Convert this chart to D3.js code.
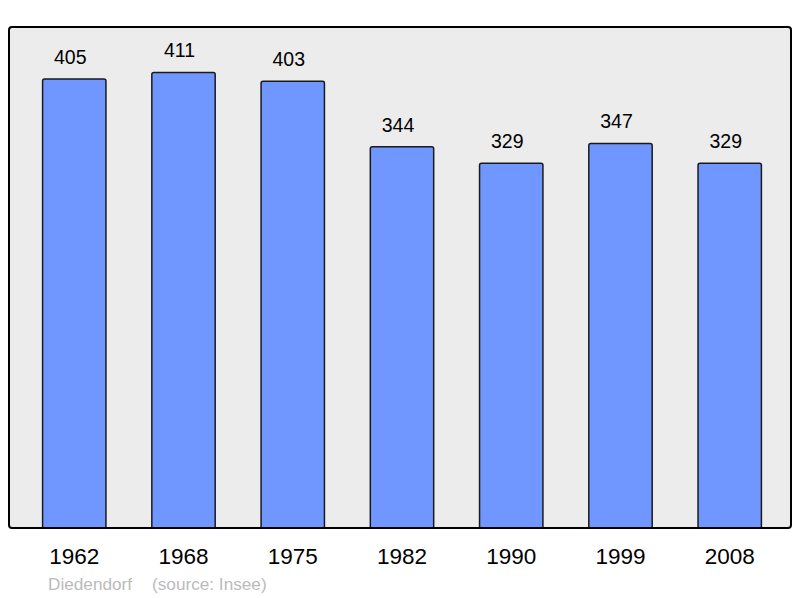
<!DOCTYPE html>
<html>
<head>
<meta charset="utf-8">
<script src="https://cdn.jsdelivr.net/npm/d3@7"></script>
<style>
  body { margin: 0; background: #fff; }
  text { font-family: "Liberation Sans", Arial, sans-serif; }
</style>
</head>
<body>
<div id="chart"></div>
<script>
const years = ["1962", "1968", "1975", "1982", "1990", "1999", "2008"];
const population = [405, 411, 403, 344, 329, 347, 329];
const town = "Diedendorf";
const source = "(source: Insee)";

const width = 800;
const height = 598;
const frame = { left: 9, top: 27, right: 791, bottom: 528 };

const svg = d3.select("#chart")
    .append("svg")
    .attr("width", width)
    .attr("height", height);

// clip bars at the plot bottom so their lower corners don't show
svg.append("defs").append("clipPath")
    .attr("id", "plot-clip")
    .append("rect")
    .attr("x", frame.left)
    .attr("y", frame.top)
    .attr("width", frame.right - frame.left)
    .attr("height", frame.bottom - frame.top);

// Plot background
svg.append("rect")
    .attr("x", frame.left)
    .attr("y", frame.top)
    .attr("width", frame.right - frame.left)
    .attr("height", frame.bottom - frame.top)
    .attr("rx", 3)
    .attr("fill", "#ececec");

const xScale = d3.scaleBand()
    .domain(years)
    .range([12, 792])
    .paddingInner(0.42)
    .paddingOuter(0.28);

const yScale = d3.scaleLinear()
    .domain([0, 452])
    .range([frame.bottom, frame.top]);

// Bars
svg.append("g")
    .attr("clip-path", "url(#plot-clip)")
    .selectAll(".bar")
    .data(years)
    .enter()
    .append("rect")
    .attr("class", "bar")
    .attr("x", d => xScale(d))
    .attr("y", (d, i) => yScale(population[i]))
    .attr("width", xScale.bandwidth())
    .attr("height", (d, i) => yScale(0) - yScale(population[i]) + 6)
    .attr("rx", 2)
    .attr("fill", "#7097ff")
    .attr("stroke", "#1a1a1a")
    .attr("stroke-width", 1.5);

// Value labels
svg.selectAll(".value")
    .data(years)
    .enter()
    .append("text")
    .attr("class", "value")
    .attr("x", d => xScale(d) + xScale.bandwidth() / 2 - 4)
    .attr("y", (d, i) => yScale(population[i]) - 15)
    .attr("text-anchor", "middle")
    .attr("font-size", 19.5)
    .attr("fill", "#000")
    .text((d, i) => population[i]);

// Frame outline
svg.append("rect")
    .attr("x", frame.left)
    .attr("y", frame.top)
    .attr("width", frame.right - frame.left)
    .attr("height", frame.bottom - frame.top)
    .attr("rx", 3)
    .attr("fill", "none")
    .attr("stroke", "#000")
    .attr("stroke-width", 2);

// Year axis
const xAxis = d3.axisBottom(xScale).tickSize(0).tickPadding(0);
const axisG = svg.append("g")
    .attr("transform", `translate(0, ${frame.bottom})`)
    .call(xAxis);
axisG.select(".domain").remove();
axisG.selectAll("text")
    .attr("y", 36)
    .attr("dy", null)
    .attr("font-size", 22.5)
    .attr("font-family", "'Liberation Sans', Arial, sans-serif")
    .attr("fill", "#000");

// Caption
svg.append("text")
    .attr("x", 48)
    .attr("y", 590)
    .attr("font-size", 17.2)
    .attr("fill", "#bbbbbb")
    .text(town);

svg.append("text")
    .attr("x", 152)
    .attr("y", 590)
    .attr("font-size", 17.2)
    .attr("fill", "#bbbbbb")
    .text(source);
</script>
</body>
</html>
